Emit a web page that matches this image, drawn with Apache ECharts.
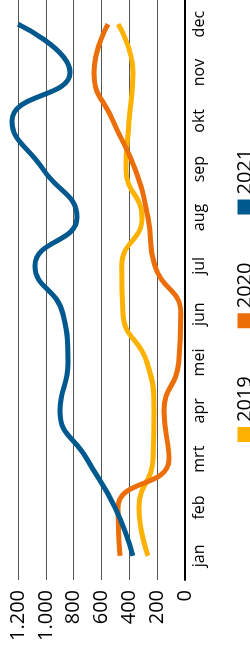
<!DOCTYPE html>
<html>
<head>
<meta charset="utf-8">
<script src="https://cdn.jsdelivr.net/npm/echarts@6/dist/echarts.min.js"></script>
<style>
    html, body { margin: 0; padding: 0; background: #fff; overflow: hidden; width: 250px; height: 657px; }
    /* chart is drawn landscape and turned a quarter to the left */
    #chart { position: absolute; left: 0; top: 0; width: 657px; height: 250px;
             transform-origin: 0 0; transform: translateY(657px) rotate(-90deg); }
</style>
</head>
<body>
<div id="chart"></div>
<script>
var months = ['jan', 'feb', 'mrt', 'apr', 'mei', 'jun', 'jul', 'aug', 'sep', 'okt', 'nov', 'dec'];
var data2019 = [266, 331, 230, 223, 273, 445, 455, 309, 424, 402, 374, 481];
var data2020 = [467, 481, 115, 151, 45, 30, 216, 266, 359, 517, 654, 553];
var data2021 = [374, 503, 704, 898, 841, 877, 1078, 776, 1020, 1243, 826, 1200];
var yTicks = [0, 200, 400, 600, 800, 1000, 1200];

var colors = ['#fdb100', '#ec6e08', '#00598e'];

// dutch thousands separator: 1.200
function fmt(v) {
    if (v >= 1000) {
        return Math.floor(v / 1000) + '.' + String(v % 1000).padStart(3, '0');
    }
    return String(v);
}

var chart = echarts.init(document.getElementById('chart'), null, { renderer: 'canvas' });

function lineSeries(name, data) {
    return {
        name: name,
        type: 'line',
        data: data,
        smooth: true,
        symbol: 'none',
        clip: false,
        lineStyle: { width: 5 }
    };
}

var option = {
    animation: false,
    color: colors,
    textStyle: { fontFamily: 'Open Sans' },
    legend: {
        data: ['2019', '2020', '2021'],
        left: 210,
        top: 230,
        itemGap: 48,
        itemWidth: 15,
        itemHeight: 15,
        icon: 'rect',
        textStyle: { fontSize: 20, color: '#000', fontFamily: 'Open Sans' }
    },
    grid: {
        left: 77,
        right: -3,
        top: 18,
        bottom: 65
    },
    xAxis: {
        type: 'category',
        data: months,
        boundaryGap: true,
        axisLine: { lineStyle: { color: '#000', width: 2 } },
        axisTick: { show: false },
        axisLabel: { fontSize: 16, color: '#000', margin: 6, fontFamily: 'Open Sans' }
    },
    yAxis: {
        type: 'value',
        min: yTicks[0],
        max: yTicks[yTicks.length - 1],
        interval: 200,
        axisLine: { show: false },
        axisTick: { show: false },
        splitLine: { lineStyle: { color: '#555', width: 1 } },
        axisLabel: {
            fontSize: 20,
            color: '#000',
            margin: 10,
            fontFamily: 'Open Sans',
            formatter: fmt
        }
    },
    series: [
        lineSeries('2019', data2019),
        lineSeries('2020', data2020),
        lineSeries('2021', data2021)
    ]
};
chart.setOption(option);
</script>
</body>
</html>
